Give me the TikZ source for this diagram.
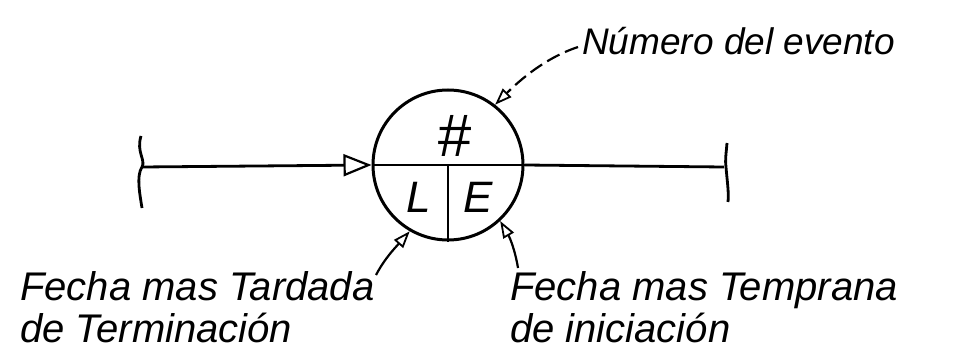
\documentclass[tikz,border=0pt]{standalone}
\usepackage{fontspec}
\setmainfont{Liberation Sans}
\usetikzlibrary{arrows.meta}
\tikzset{
  lbl/.style={anchor=base west, inner sep=0pt, font=\fontsize{40}{48}\selectfont\itshape},
  toplbl/.style={lbl, font=\fontsize{37}{44}\selectfont\itshape},
  sym/.style={inner sep=0pt, font=\fontsize{44}{50}\selectfont\itshape},
  ev/.style={circle, draw, line width=3pt, minimum size=150pt, inner sep=0pt},
  mainline/.style={line width=2.8pt},
  lead/.style={line width=2.2pt, -{Triangle[open, length=17pt, width=12pt, line width=1.8pt]}},
  bigtip/.style={line width=2.8pt, -{Triangle[open, length=28pt, width=22pt, line width=2.2pt]}},
  brk/.style={line width=2.8pt}
}
\begin{document}
\begin{tikzpicture}[x=1pt, y=-1pt]
\useasboundingbox (0,0) rectangle (959,350);
\node[ev] (c) at (448,165) {};
% dividers inside the circle
\draw[mainline] (c.west) -- (c.east);
\draw[mainline] (c.center) -- (c.south);
\node[sym, font=\fontsize{60}{66}\selectfont\itshape] (num) at (454,136) {\#};
\node[sym] (L) at (419,197) {L};
\node[sym] (E) at (478,197) {E};
% main line with brackets
\coordinate (lb) at (142,167);
\coordinate (rb) at (724,167);
\draw[bigtip] (lb) -- (c.west);
\draw[mainline] (c.east) -- (rb);
\draw[brk] (141,136) .. controls (136,152) and (146,160) .. (lb) .. controls (136,176) and (140,195) .. (142,208);
\draw[brk] (727,143) .. controls (726,155) and (725,160) .. (726,167) .. controls (727,180) and (729,192) .. (728,202);
% labels
\node[toplbl] (tnum) at (582,55) {Número del evento};
\node[lbl] (t1) at (20,300) {Fecha mas Tardada};
\node[lbl] (t2) at (20,342) {de Terminación};
\node[lbl] (t3) at (510,300) {Fecha mas Temprana};
\node[lbl] (t4) at (510,342) {de iniciación};
% leaders
\coordinate (a1) at (578,47);
\coordinate (a2) at (376,275);
\coordinate (a3) at (518,268);
\draw[lead, dashed, dash pattern=on 14pt off 6pt] (a1) .. controls (545,58) and (520,80) .. (c.52);
\draw[lead] (a2) .. controls (385,258) and (395,248) .. (c.240);
\draw[lead] (a3) .. controls (515,250) and (510,238) .. (c.313);
\end{tikzpicture}
\end{document}
